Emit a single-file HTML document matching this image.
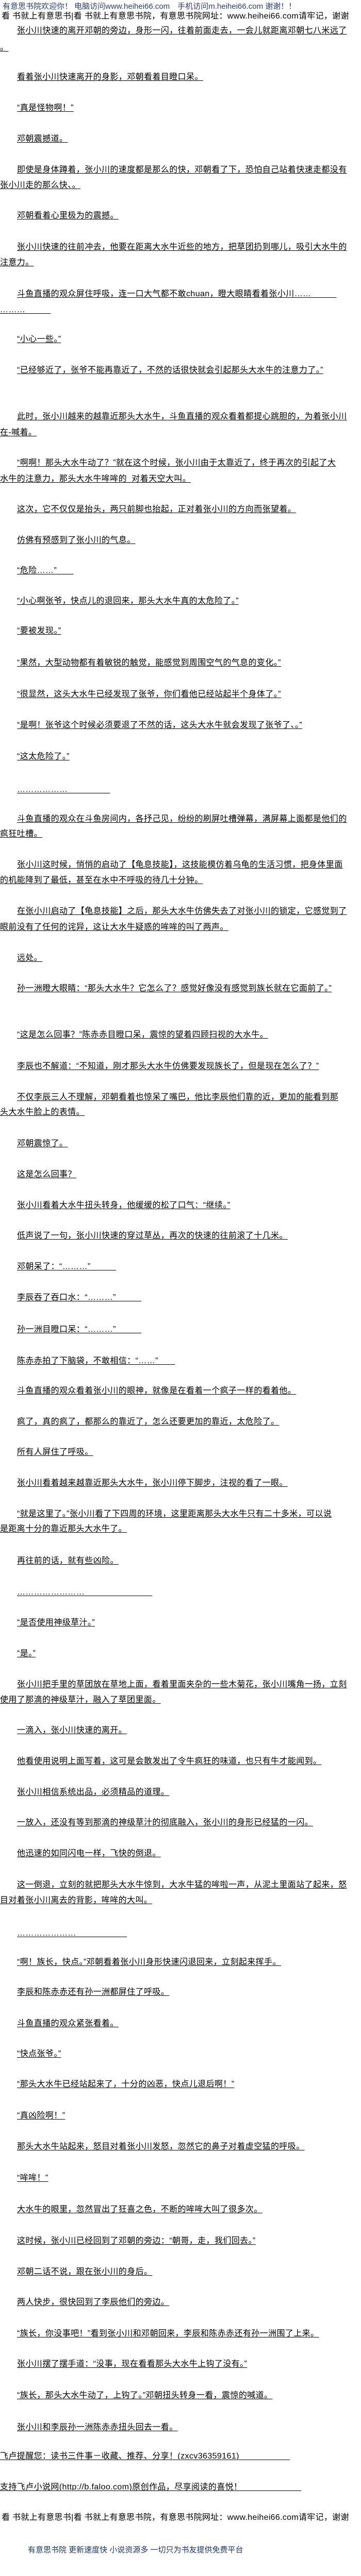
<!DOCTYPE html>
<html><head><meta charset="utf-8">
<style>
html,body{margin:0;padding:0;background:#fff;overflow:hidden;width:700px;height:5097px;}
body{position:relative;font-family:"Liberation Sans","Noto Sans CJK SC",sans-serif;}
#wrap{position:absolute;left:0;top:0;width:700px;height:5097px;overflow:hidden;}
.l{position:absolute;left:33px;height:30px;line-height:30px;font-size:16px;letter-spacing:0.4px;color:#000;white-space:nowrap;text-decoration:underline;text-decoration-thickness:1px;text-underline-offset:2px;}
.w{left:0;}
.h1{position:absolute;left:5px;top:3px;font-size:15px;line-height:20px;color:#2a3f6e;white-space:nowrap;}
.h2{position:absolute;left:3px;width:697px;overflow:hidden;font-size:16px;line-height:20px;color:#000;white-space:nowrap;letter-spacing:0.3px;}
.ft{position:absolute;left:54px;top:4940px;font-size:15px;line-height:20px;color:#1f3566;white-space:nowrap;}
</style></head><body><div id="wrap">
<div class="h1">有意思书院欢迎你！ 电脑访问www.heihei66.com　手机访问m.heihei66.com 谢谢！！</div>
<div class="h2" style="top:22px">看 书就上有意思书|看 书就上有意思书院，有意思书院网址：www.heihei66.com请牢记，谢谢</div>

<div class="l" style="top:45px">张小川快速的离开邓朝的旁边，身形一闪，往着前面走去，一会儿就距离邓朝七八米远了</div>
<div class="l w" style="top:78px">。</div>
<div class="l" style="top:135px">看着张小川快速离开的身影，邓朝看着目瞪口呆。</div>
<div class="l" style="top:195px">“真是怪物啊！”</div>
<div class="l" style="top:255px">邓朝震撼道。</div>
<div class="l" style="top:315px">即使是身体蹲着，张小川的速度都是那么的快，邓朝看了下，恐怕自己站着快速走都没有</div>
<div class="l w" style="top:345px">张小川走的那么快、。</div>
<div class="l" style="top:404px">邓朝看着心里极为的震撼。</div>
<div class="l" style="top:465px">张小川快速的往前冲去，他要在距离大水牛近些的地方，把草团扔到哪儿，吸引大水牛的</div>
<div class="l w" style="top:495px">注意力。</div>
<div class="l" style="top:556px">斗鱼直播的观众屏住呼吸，连一口大气都不敢chuan，瞪大眼睛看着张小川……　　　</div>
<div class="l w" style="top:587px">………　　　</div>
<div class="l" style="top:644px">“小心一些。”</div>
<div class="l" style="top:704px">“已经够近了，张爷不能再靠近了，不然的话很快就会引起那头大水牛的注意力了。”</div>
<div class="l" style="top:794px">此时，张小川越来的越靠近那头大水牛，斗鱼直播的观众看着都提心跳胆的，为着张小川</div>
<div class="l w" style="top:825px">在-喊着。</div>
<div class="l" style="top:884px">“啊啊！那头大水牛动了？”就在这个时候，张小川由于太靠近了，终于再次的引起了大</div>
<div class="l w" style="top:915px">水牛的注意力，那头大水牛哞哞的_对着天空大叫。</div>
<div class="l" style="top:974px">这次，它不仅仅是抬头，两只前脚也抬起，正对着张小川的方向而张望着。</div>
<div class="l" style="top:1034px">仿佛有预感到了张小川的气息。</div>
<div class="l" style="top:1093px">“危险……”　　</div>
<div class="l" style="top:1152px">“小心啊张爷，快点儿的退回来，那头大水牛真的太危险了。”</div>
<div class="l" style="top:1210px">“要被发现。”</div>
<div class="l" style="top:1272px">“果然，大型动物都有着敏锐的触觉，能感觉到周围空气的气息的变化。”</div>
<div class="l" style="top:1333px">“很显然，这头大水牛已经发现了张爷，你们看他已经站起半个身体了。”</div>
<div class="l" style="top:1393px">“是啊！张爷这个时候必须要退了不然的话，这头大水牛就会发现了张爷了、。”</div>
<div class="l" style="top:1454px">“这太危险了。”</div>
<div class="l" style="top:1518px">………………　　　　　</div>
<div class="l" style="top:1575px">斗鱼直播的观众在斗鱼房间内，各抒己见，纷纷的刷屏吐槽弹幕，满屏幕上面都是他们的</div>
<div class="l w" style="top:1604px">疯狂吐槽。</div>
<div class="l" style="top:1664px">张小川这时候，悄悄的启动了【龟息技能】，这技能模仿着乌龟的生活习惯，把身体里面</div>
<div class="l w" style="top:1694px">的机能降到了最低，甚至在水中不呼吸的待几十分钟。</div>
<div class="l" style="top:1754px">在张小川启动了【龟息技能】之后，那头大水牛仿佛失去了对张小川的锁定，它感觉到了</div>
<div class="l w" style="top:1785px">眼前没有了任何的诧异，这让大水牛疑惑的哞哞的叫了两声。</div>
<div class="l" style="top:1845px">远处。</div>
<div class="l" style="top:1904px">孙一洲瞪大眼睛：“那头大水牛？它怎么了？感觉好像没有感觉到族长就在它面前了。”</div>
<div class="l" style="top:1994px">“这是怎么回事？”陈赤赤目瞪口呆，震惊的望着四顾扫视的大水牛。</div>
<div class="l" style="top:2055px">李辰也不解道：“不知道，刚才那头大水牛仿佛要发现族长了，但是现在怎么了？”</div>
<div class="l" style="top:2115px">不仅李辰三人不理解，邓朝看着也惊呆了嘴巴，他比李辰他们靠的近，更加的能看到那</div>
<div class="l w" style="top:2144px">头大水牛脸上的表情。</div>
<div class="l" style="top:2205px">邓朝震惊了。</div>
<div class="l" style="top:2265px">这是怎么回事？</div>
<div class="l" style="top:2325px">张小川看着大水牛扭头转身，他缓缓的松了口气：“继续。”</div>
<div class="l" style="top:2384px">低声说了一句，张小川快速的穿过草丛，再次的快速的往前滚了十几米。</div>
<div class="l" style="top:2444px">邓朝呆了：“………”　　　</div>
<div class="l" style="top:2504px">李辰吞了吞口水：“………”　　　</div>
<div class="l" style="top:2566px">孙一洲目瞪口呆：“………”　　　</div>
<div class="l" style="top:2627px">陈赤赤拍了下脑袋，不敢相信：“……”　　</div>
<div class="l" style="top:2685px">斗鱼直播的观众看着张小川的眼神，就像是在看着一个疯子一样的看着他。</div>
<div class="l" style="top:2745px">疯了，真的疯了，都那么的靠近了，怎么还要更加的靠近，太危险了。</div>
<div class="l" style="top:2804px">所有人屏住了呼吸。</div>
<div class="l" style="top:2864px">张小川看着越来越靠近那头大水牛，张小川停下脚步，注视的看了一眼。</div>
<div class="l" style="top:2924px">“就是这里了。”张小川看了下四周的环境，这里距离那头大水牛只有二十多米，可以说</div>
<div class="l w" style="top:2953px">是距离十分的靠近那头大水牛了。</div>
<div class="l" style="top:3015px">再往前的话，就有些凶险。</div>
<div class="l" style="top:3076px">……………………　　　　　　　　</div>
<div class="l" style="top:3135px">“是否使用神级草汁。”</div>
<div class="l" style="top:3195px">“是。”</div>
<div class="l" style="top:3255px">张小川把手里的草团放在草地上面，看着里面夹杂的一些木菊花，张小川嘴角一扬，立刻</div>
<div class="l w" style="top:3285px">使用了那滴的神级草汁，融入了草团里面。</div>
<div class="l" style="top:3344px">一滴入，张小川快速的离开。</div>
<div class="l" style="top:3404px">他看使用说明上面写着，这可是会散发出了令牛疯狂的味道，也只有牛才能闻到。</div>
<div class="l" style="top:3464px">张小川相信系统出品，必须精品的道理。</div>
<div class="l" style="top:3523px">一放入，还没有等到那滴的神级草汁的彻底融入，张小川的身形已经猛的一闪。</div>
<div class="l" style="top:3583px">他迅速的如同闪电一样，飞快的倒退。</div>
<div class="l" style="top:3644px">这一倒退，立刻的就把那头大水牛惊到，大水牛猛的哞啦一声，从泥土里面站了起来，怒</div>
<div class="l w" style="top:3674px">目对着张小川离去的背影，哞哞的大叫。</div>
<div class="l" style="top:3738px">…………………　　　　　　</div>
<div class="l" style="top:3794px">“啊！族长，快点。”邓朝看着张小川身形快速闪退回来，立刻起来挥手。</div>
<div class="l" style="top:3852px">李辰和陈赤赤还有孙一洲都屏住了呼吸。</div>
<div class="l" style="top:3913px">斗鱼直播的观众紧张看着。</div>
<div class="l" style="top:3972px">“快点张爷。”</div>
<div class="l" style="top:4031px">“那头大水牛已经站起来了，十分的凶恶，快点儿退后啊！”</div>
<div class="l" style="top:4092px">“真凶险啊！”</div>
<div class="l" style="top:4152px">那头大水牛站起来，怒目对着张小川发怒，忽然它的鼻子对着虚空猛的呼吸。</div>
<div class="l" style="top:4213px">“哞哞！”</div>
<div class="l" style="top:4274px">大水牛的眼里，忽然冒出了狂喜之色，不断的哞哞大叫了很多次。</div>
<div class="l" style="top:4335px">这时候，张小川已经回到了邓朝的旁边：“朝哥，走，我们回去。”</div>
<div class="l" style="top:4395px">邓朝二话不说，跟在张小川的身后。</div>
<div class="l" style="top:4454px">两人快步，很快回到了李辰他们的旁边。</div>
<div class="l" style="top:4515px">“族长，你没事吧！”看到张小川和邓朝回来，李辰和陈赤赤还有孙一洲围了上来。</div>
<div class="l" style="top:4574px">张小川摆了摆手道：“没事，现在看看那头大水牛上钩了没有。”</div>
<div class="l" style="top:4635px">“族长，那头大水牛动了，上钩了。”邓朝扭头转身一看，震惊的喊道。</div>
<div class="l" style="top:4697px">张小川和李辰孙一洲陈赤赤扭头回去一看。</div>
<div class="l w" style="top:4753px">飞卢提醒您：读书三件事－收藏、推荐、分享！(zxcv36359161)　　　　　　</div>
<div class="l w" style="top:4813px">支持飞卢小说网(http://b.faloo.com)原创作品，尽享阅读的喜悦！　　　　　　　</div>
<div class="h2" style="top:4877px">看 书就上有意思书|看 书就上有意思书院，有意思书院网址：www.heihei66.com请牢记，谢谢</div>
<div class="ft">有意思书院 更新速度快 小说资源多 一切只为书友提供免费平台</div>
</div></body></html>
